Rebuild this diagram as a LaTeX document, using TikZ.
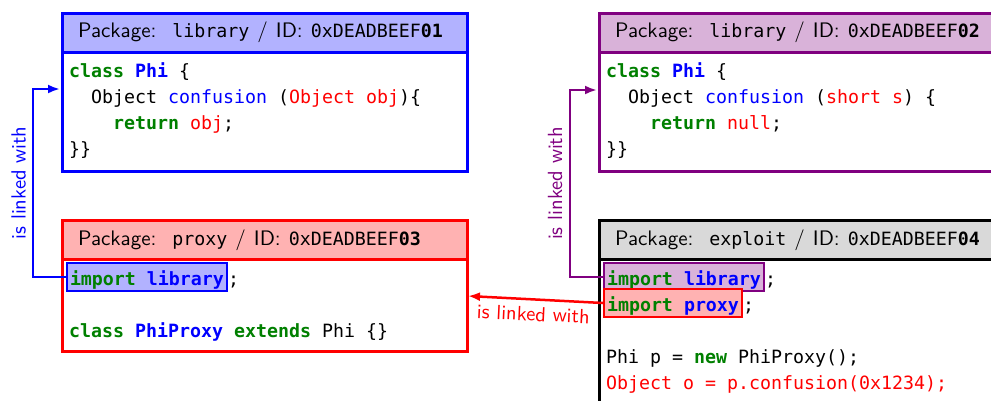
\documentclass[tikz,border=0pt]{standalone}
\usepackage{fontspec}
\setmonofont{DejaVu Sans Mono}
\setsansfont{lmsans10-regular}[Extension=.otf, BoldFont=lmsans10-bold]
\usetikzlibrary{arrows.meta}
\definecolor{kwgreen}{rgb}{0,0.5,0}
\definecolor{lnviolet}{rgb}{0.5,0,0.5}
\newcommand\codefont{\ttfamily\fontsize{18.27}{26}\selectfont}
\newcommand\hdfont{\sffamily\fontsize{21}{25}\selectfont}
\newcommand\lblfont{\sffamily\fontsize{20.5}{24}\selectfont}
\newcommand\hdTT[1]{{\ttfamily\fontsize{18.27}{25}\selectfont #1}}
\newcommand\hdSep{\hspace{8pt}/\hspace{8pt}ID:\hspace{8pt}}
\newcommand\cKw[1]{\textcolor{kwgreen}{\textbf{#1}}}
\newcommand\cTy[1]{\textcolor{blue}{\textbf{#1}}}
\newcommand\cFn[1]{\textcolor{blue}{#1}}
\newcommand\cRd[1]{\textcolor{red}{#1}}
\tikzset{
  boxline/.style={line width=2.6pt},
  hdr/.style={draw, boxline, anchor=north west, minimum height=39pt, inner sep=0pt},
  bodybox/.style={draw, boxline, fill=white, anchor=north west, inner sep=0pt},
  hdtxt/.style={anchor=base west, inner sep=0pt, font=\hdfont},
  code/.style={anchor=base west, inner sep=0pt, font=\codefont},
  hl/.style={draw, line width=2pt, anchor=base west, inner xsep=3pt, inner ysep=2pt, text height=20pt, text depth=4pt, font=\codefont},
  link/.style={line width=2.5pt, -{Latex[length=12pt,width=9pt]}},
  lbl/.style={font=\lblfont, inner sep=0pt, anchor=base},
}
\begin{document}
\begin{tikzpicture}[x=1pt, y=-1pt]
\useasboundingbox (0,0) rectangle (991,400);
\clip (0,0) rectangle (991,400);
% box 1
\node[bodybox, draw=blue, minimum width=405pt, minimum height=119pt] (b1) at (61,51) {};
\node[hdr, fill=blue!30, draw=blue, minimum width=405pt] (h1) at (61,12) {};
% box 2
\node[bodybox, draw=lnviolet, minimum width=420pt, minimum height=119pt] (b2) at (598,51) {};
\node[hdr, fill=lnviolet!30, draw=lnviolet, minimum width=420pt] (h2) at (598,12) {};
% box 3
\node[bodybox, draw=red, minimum width=405pt, minimum height=92pt] (b3) at (61,258) {};
\node[hdr, fill=red!30, draw=red, minimum width=405pt] (h3) at (61,219) {};
% box 4
\node[bodybox, draw=black, minimum width=420pt, minimum height=170pt] (b4) at (598,258) {};
\node[hdr, fill=black!15, draw=black, minimum width=420pt] (h4) at (598,219) {};
% header texts
\node[hdtxt] (t1) at (78,37) {Package:\hspace{16pt}\hdTT{library}\hdSep\hdTT{0xDEADBEEF\textbf{01}}};
\node[hdtxt] (t2) at (615,37) {Package:\hspace{16pt}\hdTT{library}\hdSep\hdTT{0xDEADBEEF\textbf{02}}};
\node[hdtxt] (t3) at (78,245) {Package:\hspace{16pt}\hdTT{proxy}\hdSep\hdTT{0xDEADBEEF\textbf{03}}};
\node[hdtxt] (t4) at (615,245) {Package:\hspace{16pt}\hdTT{exploit}\hdSep\hdTT{0xDEADBEEF\textbf{04}}};
% box 1 code
\node[code] (c11) at (69,77) {\cKw{class} \cTy{Phi} \{};
\node[code] (c12) at (91,103) {Object \cFn{confusion} (\cRd{Object obj})\{};
\node[code] (c13) at (113,129) {\cKw{return} \cRd{obj};};
\node[code] (c14) at (69,155) {\}\}};
% box 2 code
\node[code] (c21) at (606,77) {\cKw{class} \cTy{Phi} \{};
\node[code] (c22) at (628,103) {Object \cFn{confusion} (\cRd{short s}) \{};
\node[code] (c23) at (650,129) {\cKw{return} \cRd{null};};
\node[code] (c24) at (606,155) {\}\}};
% box 3 code
\node[hl, draw=blue, fill=blue!30] (hl3) at (66,285) {\cKw{import} \cTy{library}};
\node[code] (s3) at (hl3.base east) {;};
\node[code] (c32) at (69,337) {\cKw{class} \cTy{PhiProxy} \cKw{extends} Phi \{\}};
% box 4 code
\node[hl, draw=lnviolet, fill=lnviolet!30] (hl4a) at (603,285) {\cKw{import} \cTy{library}};
\node[code] (s4a) at (hl4a.base east) {;};
\node[hl, draw=red, fill=red!30] (hl4b) at (603,311) {\cKw{import} \cTy{proxy}};
\node[code] (s4b) at (hl4b.base east) {;};
\node[code] (c43) at (606,363) {Phi p = \cKw{new} PhiProxy();};
\node[code] (c44) at (606,389) {\cRd{Object o = p.confusion(0x1234);}};
% links
\coordinate (e1) at (33,89);
\coordinate (in1) at (60,89);
\draw[link, blue] (hl3.west) -| (e1) -- (in1);
\node[lbl, blue, rotate=90] (lb1) at (25.5,183) {is linked with};
\coordinate (e2) at (570,90);
\coordinate (in2) at (597,90);
\draw[link, lnviolet] (hl4a.west) -| (e2) -- (in2);
\node[lbl, lnviolet, rotate=90] (lb2) at (562,183.5) {is linked with};
\coordinate (in3) at (468,296);
\draw[link, red] (hl4b.west) -- (in3);
\node[lbl, red, rotate=-2.5] (lb3) at (533,321) {is linked with};
\end{tikzpicture}
\end{document}
